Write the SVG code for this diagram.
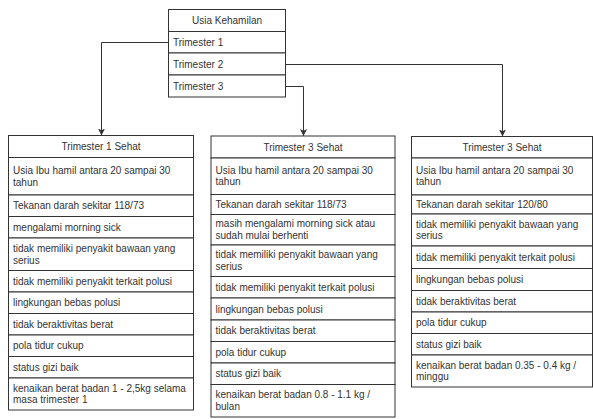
<svg xmlns="http://www.w3.org/2000/svg" width="593" height="419" viewBox="0 0 593 419">
<style>
rect{fill:#ffffff;stroke:#333333;stroke-width:1}
text{font-family:"Liberation Sans",Arial,Helvetica,sans-serif;font-size:10px;fill:#333333}
.c{text-anchor:middle}
.conn path{fill:none;stroke:#333333;stroke-width:1}
</style>
<defs>
<marker id="arr" viewBox="0 0 8 8" refX="8" refY="4" markerWidth="7" markerHeight="7" markerUnits="userSpaceOnUse" orient="auto">
<path d="M0,0 L8,4 L0,8 L2,4 z" fill="#333333" stroke="none"/>
</marker>
</defs>
<rect x="0" y="0" width="593" height="419" style="stroke:none;fill:#ffffff"/>

<g id="usia-kehamilan">
<rect x="168.5" y="9.5" width="117" height="22"/>
<rect x="168.5" y="31.5" width="117" height="21.5"/>
<rect x="168.5" y="53" width="117" height="22"/>
<rect x="168.5" y="75" width="117" height="22"/>
<text class="c" x="227" y="24">Usia Kehamilan</text>
<text x="173" y="45.7">Trimester 1</text>
<text x="173" y="67.5">Trimester 2</text>
<text x="173" y="89.5">Trimester 3</text>
</g>

<g id="trimester1">
<rect x="8.5" y="135.5" width="185" height="22"/>
<rect x="8.5" y="157.5" width="185" height="37.5"/>
<rect x="8.5" y="195" width="185" height="21.5"/>
<rect x="8.5" y="216.5" width="185" height="21.5"/>
<rect x="8.5" y="238" width="185" height="32.5"/>
<rect x="8.5" y="270.5" width="185" height="21.5"/>
<rect x="8.5" y="292" width="185" height="21.5"/>
<rect x="8.5" y="313.5" width="185" height="21.5"/>
<rect x="8.5" y="335" width="185" height="21.5"/>
<rect x="8.5" y="356.5" width="185" height="21.5"/>
<rect x="8.5" y="378" width="185" height="32"/>
<text class="c" x="101" y="150">Trimester 1 Sehat</text>
<text x="13" y="174">Usia Ibu hamil antara 20 sampai 30</text>
<text x="13" y="185.5">tahun</text>
<text x="13" y="209.2">Tekanan darah sekitar 118/73</text>
<text x="13" y="230.7">mengalami morning sick</text>
<text x="13" y="252">tidak memiliki penyakit bawaan yang</text>
<text x="13" y="263.5">serius</text>
<text x="13" y="284.7">tidak memiliki penyakit terkait polusi</text>
<text x="13" y="306.2">lingkungan bebas polusi</text>
<text x="13" y="327.7">tidak beraktivitas berat</text>
<text x="13" y="349.2">pola tidur cukup</text>
<text x="13" y="370.7">status gizi baik</text>
<text x="13" y="391.5">kenaikan berat badan 1 - 2,5kg selama</text>
<text x="13" y="403">masa trimester 1</text>
</g>

<g id="trimester3a">
<rect x="211" y="136" width="184" height="22"/>
<rect x="211" y="158" width="184" height="36.5"/>
<rect x="211" y="194.5" width="184" height="20"/>
<rect x="211" y="214.5" width="184" height="30.5"/>
<rect x="211" y="245" width="184" height="31.5"/>
<rect x="211" y="276.5" width="184" height="21.5"/>
<rect x="211" y="298" width="184" height="22"/>
<rect x="211" y="320" width="184" height="21.5"/>
<rect x="211" y="341.5" width="184" height="21.5"/>
<rect x="211" y="363" width="184" height="21.5"/>
<rect x="211" y="384.5" width="184" height="32.5"/>
<text class="c" x="303" y="150.5">Trimester 3 Sehat</text>
<text x="215.5" y="173.5">Usia Ibu hamil antara 20 sampai 30</text>
<text x="215.5" y="185">tahun</text>
<text x="215.5" y="208">Tekanan darah sekitar 118/73</text>
<text x="215.5" y="227">masih mengalami morning sick atau</text>
<text x="215.5" y="238.5">sudah mulai berhenti</text>
<text x="215.5" y="258">tidak memiliki penyakit bawaan yang</text>
<text x="215.5" y="269.5">serius</text>
<text x="215.5" y="290.7">tidak memiliki penyakit terkait polusi</text>
<text x="215.5" y="312.5">lingkungan bebas polusi</text>
<text x="215.5" y="334.2">tidak beraktivitas berat</text>
<text x="215.5" y="355.7">pola tidur cukup</text>
<text x="215.5" y="377.2">status gizi baik</text>
<text x="215.5" y="398">kenaikan berat badan 0.8 - 1.1 kg /</text>
<text x="215.5" y="409.5">bulan</text>
</g>

<g id="trimester3b">
<rect x="411.5" y="136.5" width="181" height="21.5"/>
<rect x="411.5" y="158" width="181" height="37"/>
<rect x="411.5" y="195" width="181" height="19"/>
<rect x="411.5" y="214" width="181" height="32"/>
<rect x="411.5" y="246" width="181" height="22.5"/>
<rect x="411.5" y="268.5" width="181" height="22"/>
<rect x="411.5" y="290.5" width="181" height="21.5"/>
<rect x="411.5" y="312" width="181" height="21.5"/>
<rect x="411.5" y="333.5" width="181" height="21.5"/>
<rect x="411.5" y="355" width="181" height="32"/>
<text class="c" x="502" y="150.7">Trimester 3 Sehat</text>
<text x="416" y="173.5">Usia Ibu hamil antara 20 sampai 30</text>
<text x="416" y="185">tahun</text>
<text x="416" y="208">Tekanan darah sekitar 120/80</text>
<text x="416" y="227.5">tidak memiliki penyakit bawaan yang</text>
<text x="416" y="239">serius</text>
<text x="416" y="260.7">tidak memiliki penyakit terkait polusi</text>
<text x="416" y="283">lingkungan bebas polusi</text>
<text x="416" y="304.7">tidak beraktivitas berat</text>
<text x="416" y="326.2">pola tidur cukup</text>
<text x="416" y="347.7">status gizi baik</text>
<text x="416" y="368.5">kenaikan berat badan 0.35 - 0.4 kg /</text>
<text x="416" y="380">minggu</text>
</g>

<g class="conn" id="connectors">
<path d="M168.5,42.5 H101.5 V135.5" marker-end="url(#arr)"/>
<path d="M285.5,64.5 H502.5 V136.5" marker-end="url(#arr)"/>
<path d="M285.5,86.5 H303.5 V136" marker-end="url(#arr)"/>
</g>
</svg>
